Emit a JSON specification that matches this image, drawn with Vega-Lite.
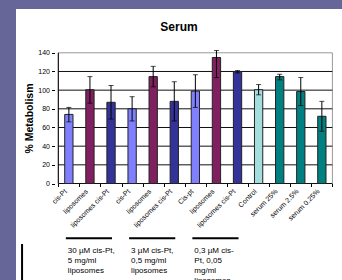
{
  "$schema": "https://vega.github.io/schema/vega-lite/v6.json",
  "autosize": "none",
  "width": 326,
  "height": 271,
  "padding": {"left": 16, "top": 9, "right": 0, "bottom": 0},
  "background": "#666699",
  "config": {"view": {"fill": "white", "stroke": null}, "font": "Liberation Sans", "axis": {"labelOverlap": false}},
  "title": {"text": "Serum", "fontSize": 12, "fontWeight": "bold", "anchor": "middle", "frame": "group", "offset": -33.5, "baseline": "alphabetic", "color": "black"},
  "resolve": {"axis": {"x": "independent", "y": "independent"}},
  "data": {"values": [
    {"label": "cis-Pt", "type": "cis", "grp": "30 µM cis-Pt,\n5 mg/ml\nliposomes", "v": 74, "lo": 66, "hi": 81.5},
    {"label": "liposomes", "type": "lip", "grp": "30 µM cis-Pt,\n5 mg/ml\nliposomes", "v": 100.5, "lo": 86, "hi": 114.5},
    {"label": "liposomes cis-Pt", "type": "lipcis", "grp": "30 µM cis-Pt,\n5 mg/ml\nliposomes", "v": 87, "lo": 69, "hi": 105},
    {"label": "cis-Pt", "type": "cis", "grp": "3 µM cis-Pt,\n0,5 mg/ml\nliposomes", "v": 80, "lo": 67, "hi": 93},
    {"label": "liposomes", "type": "lip", "grp": "3 µM cis-Pt,\n0,5 mg/ml\nliposomes", "v": 114.5, "lo": 103.5, "hi": 125.5},
    {"label": "liposomes cis-Pt", "type": "lipcis", "grp": "3 µM cis-Pt,\n0,5 mg/ml\nliposomes", "v": 88, "lo": 67, "hi": 109},
    {"label": "Cis-pt", "type": "cis", "grp": "0,3 µM cis-\nPt, 0,05\nmg/ml\nliposomes", "v": 99, "lo": 81.5, "hi": 116.5},
    {"label": "liposomes", "type": "lip", "grp": "0,3 µM cis-\nPt, 0,05\nmg/ml\nliposomes", "v": 135, "lo": 113.5, "hi": 142.5},
    {"label": "liposomes cis-Pt", "type": "lipcis", "grp": "0,3 µM cis-\nPt, 0,05\nmg/ml\nliposomes", "v": 120, "lo": 118.5, "hi": 121},
    {"label": "Control", "type": "control", "grp": null, "v": 100.5, "lo": 95, "hi": 106},
    {"label": "serum 25%", "type": "serum", "grp": null, "v": 114.5, "lo": 111, "hi": 117},
    {"label": "serum 2.5%", "type": "serum", "grp": null, "v": 98.5, "lo": 83.5, "hi": 113.5},
    {"label": "serum 0.25%", "type": "serum", "grp": null, "v": 72, "lo": 56, "hi": 88}
  ]},
  "transform": [{"window": [{"op": "row_number", "as": "idx"}]}],
  "layer": [
    {
      "data": {"values": [{}]},
      "mark": {"type": "rect", "fillOpacity": 0, "stroke": "#999999", "strokeWidth": 1},
      "encoding": {
        "x": {"datum": 0.5, "type": "quantitative", "axis": null},
        "x2": {"datum": 13.5},
        "y": {"datum": 0, "type": "quantitative", "axis": null},
        "y2": {"datum": 140}
      }
    },
    {
      "data": {"values": [{"g": 0}, {"g": 20}, {"g": 40}, {"g": 60}, {"g": 80}, {"g": 100}, {"g": 120}]},
      "mark": {"type": "rule", "color": "#111111", "strokeWidth": 1},
      "encoding": {
        "y": {"field": "g", "type": "quantitative", "axis": null},
        "x": {"datum": 0.5, "type": "quantitative", "axis": null},
        "x2": {"datum": 13.5}
      }
    },
    {
      "data": {"values": [{}]},
      "mark": {"type": "rule", "color": "black", "strokeWidth": 1},
      "encoding": {
        "x": {"datum": 0.5, "type": "quantitative", "axis": null},
        "y": {"datum": 0, "type": "quantitative", "axis": null},
        "y2": {"datum": 140}
      }
    },
    {
      "mark": {"type": "bar", "width": 8.3, "stroke": "#222222", "strokeWidth": 1},
      "encoding": {
        "x": {"field": "idx", "type": "quantitative",
              "scale": {"domain": [-1.27, 13.718], "nice": false, "zero": false},
              "axis": {"values": [0.5, 1.5, 2.5, 3.5, 4.5, 5.5, 6.5, 7.5, 8.5, 9.5, 10.5, 11.5, 12.5, 13.5], "labels": false, "domain": false, "grid": false, "ticks": true, "tickSize": 3, "tickColor": "black", "offset": -96.5, "title": null}},
        "y": {"field": "v", "type": "quantitative",
              "scale": {"domain": [-103.36, 186.92], "nice": false, "zero": false},
              "axis": {"values": [0, 20, 40, 60, 80, 100, 120, 140], "labelOverlap": false, "labelSeparation": 0, "domain": false, "grid": false, "tickSize": 3, "tickColor": "black", "labelFontSize": 7, "labelColor": "black", "labelPadding": 2, "offset": -38.5, "title": "% Metabolism", "titleFontSize": 10.5, "titleFontWeight": "bold", "titleColor": "black", "titleY": 109, "titlePadding": 3}},
        "y2": {"datum": 0},
        "color": {"field": "type", "type": "nominal",
                  "scale": {"domain": ["cis", "lip", "lipcis", "control", "serum"], "range": ["#8080FF", "#802060", "#333399", "#A3DDDD", "#008080"]},
                  "legend": null}
      }
    },
    {
      "mark": {"type": "rule", "color": "black", "strokeWidth": 1},
      "encoding": {
        "x": {"field": "idx", "type": "quantitative", "axis": null},
        "y": {"field": "lo", "type": "quantitative", "axis": null},
        "y2": {"field": "hi"}
      }
    },
    {
      "mark": {"type": "tick", "orient": "horizontal", "size": 5, "thickness": 1, "color": "black"},
      "encoding": {
        "x": {"field": "idx", "type": "quantitative", "axis": null},
        "y": {"field": "lo", "type": "quantitative", "axis": null}
      }
    },
    {
      "mark": {"type": "tick", "orient": "horizontal", "size": 5, "thickness": 1, "color": "black"},
      "encoding": {
        "x": {"field": "idx", "type": "quantitative", "axis": null},
        "y": {"field": "hi", "type": "quantitative", "axis": null}
      }
    },
    {
      "mark": {"type": "text", "angle": -45, "align": "right", "baseline": "middle", "fontSize": 7, "color": "black", "xOffset": -3, "yOffset": 7},
      "encoding": {
        "x": {"field": "idx", "type": "quantitative", "axis": null},
        "y": {"datum": 0, "type": "quantitative", "axis": null},
        "text": {"field": "label"}
      }
    },
    {
      "transform": [
        {"filter": "datum.grp != null"},
        {"aggregate": [{"op": "min", "field": "idx", "as": "first"}, {"op": "max", "field": "idx", "as": "last"}], "groupby": ["grp"]}
      ],
      "mark": {"type": "rule", "color": "black", "strokeWidth": 2, "xOffset": -3, "x2Offset": 1},
      "encoding": {
        "x": {"field": "first", "type": "quantitative", "axis": null},
        "x2": {"field": "last"},
        "y": {"datum": -58.7, "type": "quantitative", "axis": null}
      }
    },
    {
      "transform": [
        {"filter": "datum.grp != null"},
        {"aggregate": [{"op": "min", "field": "idx", "as": "first"}], "groupby": ["grp"]}
      ],
      "mark": {"type": "text", "align": "left", "baseline": "top", "fontSize": 8, "lineHeight": 10, "lineBreak": "\n", "color": "black", "xOffset": -1},
      "encoding": {
        "x": {"field": "first", "type": "quantitative", "axis": null},
        "y": {"datum": -68.5, "type": "quantitative", "axis": null},
        "text": {"field": "grp"}
      }
    },
    {
      "data": {"values": [{}]},
      "mark": {"type": "rule", "color": "black", "strokeWidth": 2},
      "encoding": {
        "x": {"datum": -1.22, "type": "quantitative", "axis": null},
        "y": {"datum": -64.8, "type": "quantitative", "axis": null},
        "y2": {"datum": -103.36}
      }
    }
  ]
}
